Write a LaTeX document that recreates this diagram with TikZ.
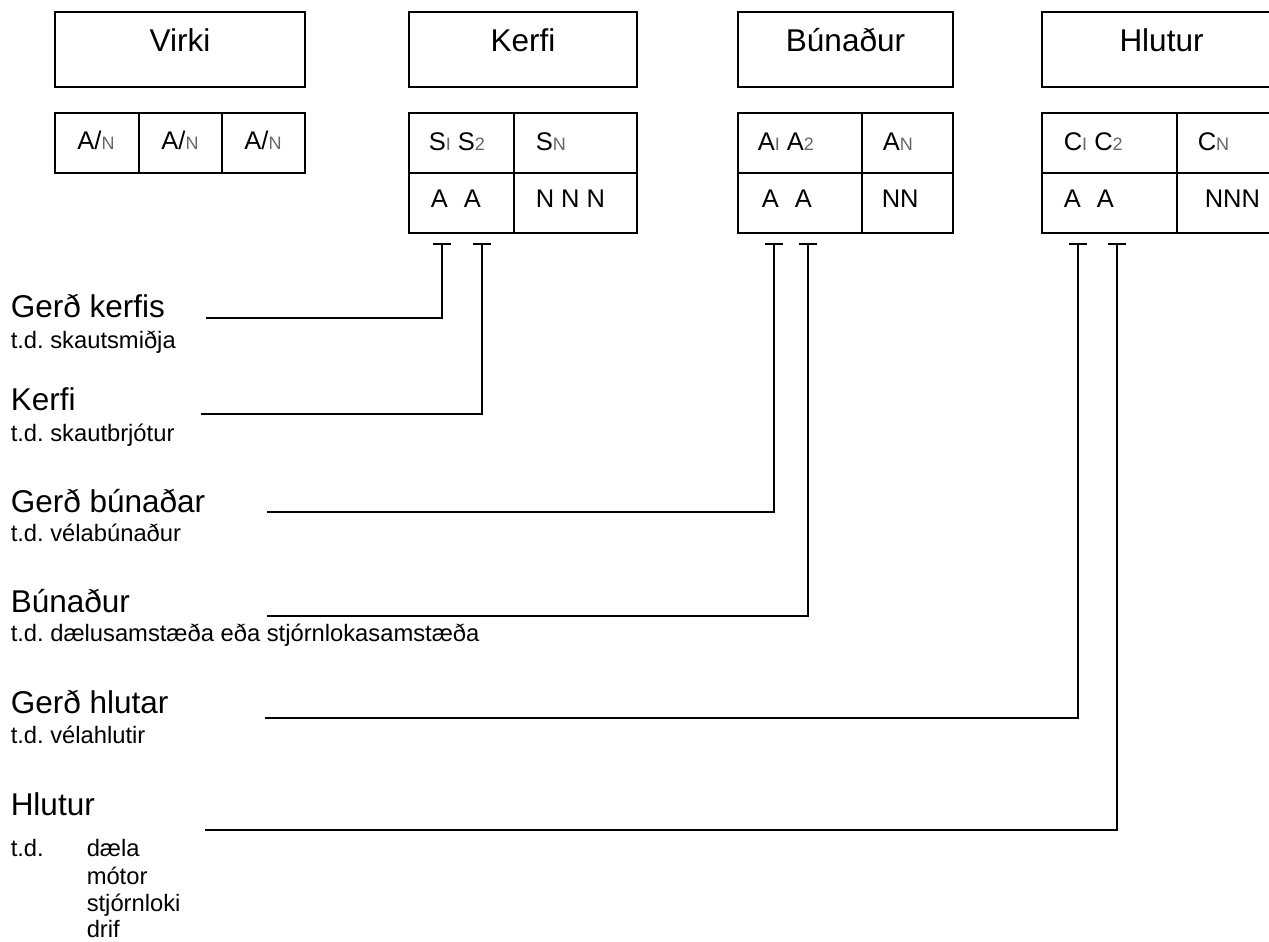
\documentclass[tikz,border=0pt]{standalone}
\usepackage{fontspec}
\setmainfont{Liberation Sans}
\usetikzlibrary{arrows.meta}
\frenchspacing

\newcommand{\bigsz}{\fontsize{31.5}{38}\selectfont}
\newcommand{\smallsz}{\fontsize{23.75}{28}\selectfont}
\newcommand{\cellsz}{\fontsize{25.5}{30}\selectfont}
\newcommand{\subidx}[1]{{\fontsize{18}{20}\selectfont\color{black!60}#1}}

\begin{document}
\begin{tikzpicture}[x=1pt, y=-1pt, line width=1.5pt,
  every node/.style={inner sep=0pt},
  topbox/.style={draw, minimum height=75pt, text height=25pt, text depth=20pt, font=\bigsz},
  cell/.style={draw, minimum height=60pt},
  celltxt/.style={anchor=base west, font=\cellsz},
  lbl/.style={anchor=base west, font=\bigsz},
  ex/.style={anchor=base west, font=\smallsz},
  tee/.style={arrows={Bar[width=18pt]-}}]

\useasboundingbox (0,0) rectangle (1269,942);
\clip (0,0) rectangle (1269,942);

% top boxes
\node[topbox, minimum width=250pt] (virki) at (180,49.5) {Virki};
\node[topbox, minimum width=228pt] (kerfi) at (523,49.5) {Kerfi};
\node[topbox, minimum width=215pt] (bunadur) at (845.5,49.5) {Búnaður};
\node[topbox, minimum width=239pt] (hlutur) at (1161.5,49.5) {Hlutur};

% Virki
\node[cell, minimum width=84pt] (v1) at (97,143) {};
\node[cell, minimum width=83pt] (v2) at (180.5,143) {};
\node[cell, minimum width=83pt] (v3) at (263.5,143) {};
\foreach \xx in {96,180,263}
  \node[anchor=base, font=\cellsz] at (\xx,149) {A/\subidx{N}};

% Kerfi
\node[cell, minimum width=105pt] (k11) at (461.5,143) {};
\node[cell, minimum width=123pt] (k12) at (575.5,143) {};
\node[cell, minimum width=105pt] (k21) at (461.5,203) {};
\node[cell, minimum width=123pt] (k22) at (575.5,203) {};
\node[celltxt] at (428,150) {S\subidx{I} S\subidx{2}};
\node[celltxt] at (535,150) {S\subidx{N}};
\node[celltxt] at (430,207) {A\hspace{16pt}A};
\node[celltxt] at (535,207) {N N N};

% Bunadur
\node[cell, minimum width=124pt] (b11) at (800,143) {};
\node[cell, minimum width=91pt] (b12) at (907.5,143) {};
\node[cell, minimum width=124pt] (b21) at (800,203) {};
\node[cell, minimum width=91pt] (b22) at (907.5,203) {};
\node[celltxt] at (757,150) {A\subidx{I} A\subidx{2}};
\node[celltxt] at (882,150) {A\subidx{N}};
\node[celltxt] at (761,207) {A\hspace{16pt}A};
\node[celltxt] at (881,207) {NN};

% Hlutur
\node[cell, minimum width=135pt] (h11) at (1109.5,143) {};
\node[cell, minimum width=123pt] (h12) at (1238.5,143) {};
\node[cell, minimum width=135pt] (h21) at (1109.5,203) {};
\node[cell, minimum width=123pt] (h22) at (1238.5,203) {};
\node[celltxt] at (1063,150) {C\subidx{I} C\subidx{2}};
\node[celltxt] at (1197,150) {C\subidx{N}};
\node[celltxt] at (1063,207) {A\hspace{16pt}A};
\node[celltxt] at (1204,207) {NNN};

% labels
\node[lbl] (gk) at (10,317) {Gerð kerfis};
\node[ex] (gkex) at (10,348) {t.d. skautsmiðja};
\node[lbl] (kf) at (10,410) {Kerfi};
\node[ex] (kfex) at (10,441) {t.d. skautbrjótur};
\node[lbl] (gb) at (10,512) {Gerð búnaðar};
\node[ex] (gbex) at (10,541) {t.d. vélabúnaður};
\node[lbl] (bn) at (10,612) {Búnaður};
\node[ex] (bnex) at (10,641) {t.d. dælusamstæða eða stjórnlokasamstæða};
\node[lbl] (gh) at (10,713) {Gerð hlutar};
\node[ex] (ghex) at (10,743) {t.d. vélahlutir};
\node[lbl] (hl) at (10,815) {Hlutur};
\node[ex] (hlex) at (10,856) {t.d.};
\foreach \txt/\yy in {dæla/856, mótor/884, stjórnloki/911, drif/937}
  \node[ex] at (86,\yy) {\txt};

% leader lines
\coordinate (t1) at (442,243);
\coordinate (t2) at (482,243);
\coordinate (t3) at (774,243);
\coordinate (t4) at (808,243);
\coordinate (t5) at (1078,243);
\coordinate (t6) at (1117,243);
\coordinate (p1) at (206,318);
\coordinate (p2) at (201,414);
\coordinate (p3) at (267,512);
\coordinate (p4) at (267,616);
\coordinate (p5) at (265,718);
\coordinate (p6) at (205,830);
\foreach \i in {1,...,6}
  \draw[tee] (t\i) |- (p\i);
\end{tikzpicture}
\end{document}
